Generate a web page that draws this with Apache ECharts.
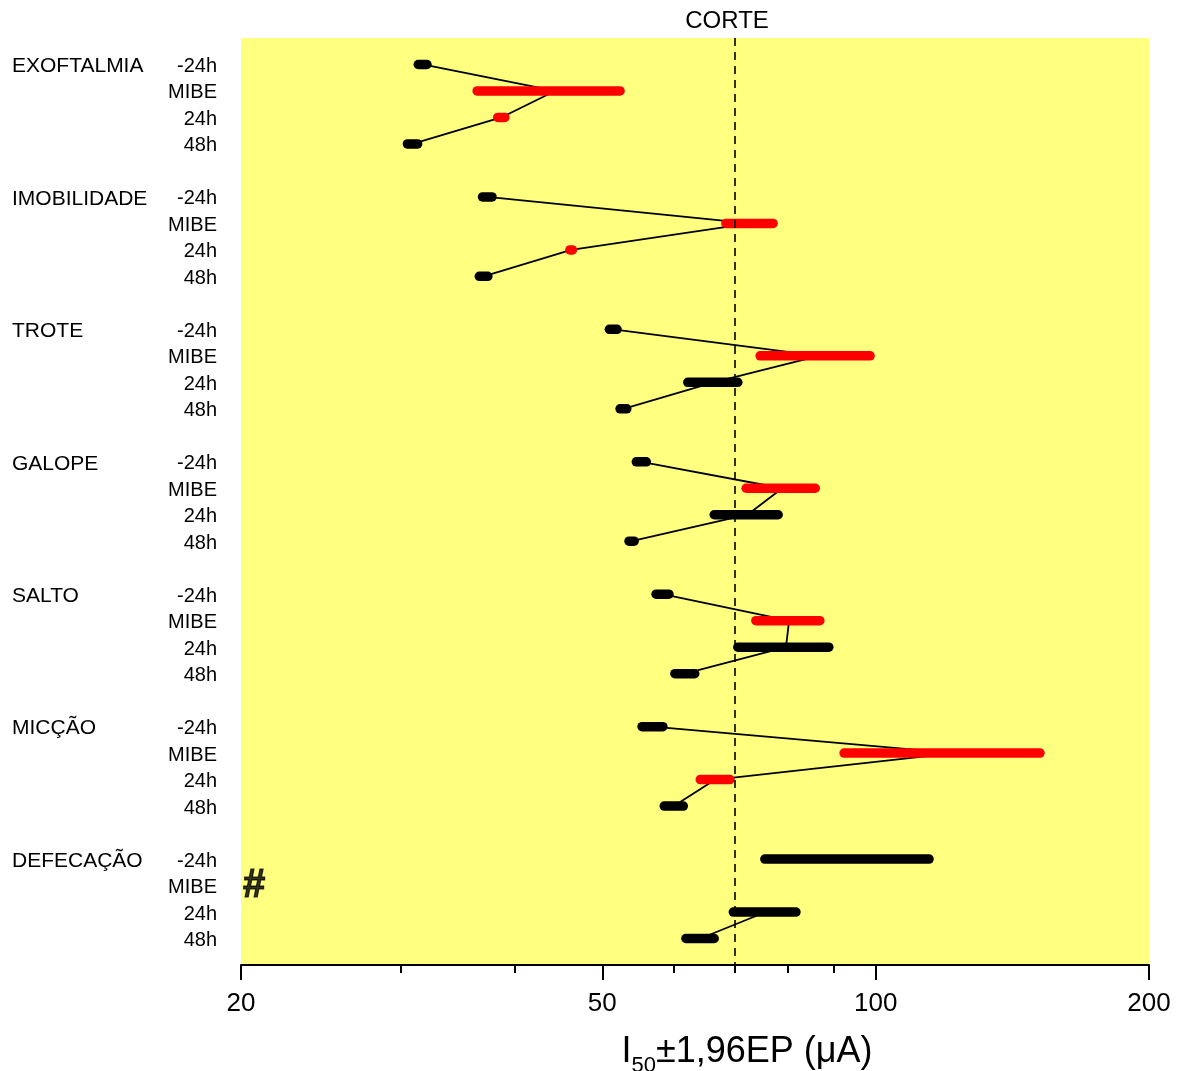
<!DOCTYPE html>
<html>
<head>
<meta charset="utf-8">
<script src="https://cdn.jsdelivr.net/npm/echarts@6/dist/echarts.min.js"></script>
<style>
html, body { margin: 0; background: #fff; }
#chart { width: 1180px; height: 1071px; }
</style>
</head>
<body>
<div id="chart"></div>
<script>
var groups = ['EXOFTALMIA', 'IMOBILIDADE', 'TROTE', 'GALOPE', 'SALTO', 'MICÇÃO', 'DEFECAÇÃO'];
var times = ['-24h', 'MIBE', '24h', '48h'];

// I50 (uA) per group, order -24h, MIBE, 24h, 48h  (null = not determined)
var i50 = [
	[31.7, 44.35, 38.7, 30.9],
	[37.35, 72.75, 46.2, 37.0],
	[51.4, 86.6, 66.3, 52.75],
	[55.2, 78.9, 72.25, 53.85],
	[58.25, 80.3, 79.65, 61.65],
	[56.8, 122.0, 66.6, 59.95],
	[95.0, null, 75.7, 64.1]
];
// 1,96 * EP
var ci = [
	[0.35, 7.95, 0.35, 0.4],
	[0.45, 4.35, 0.15, 0.4],
	[0.5, 12.0, 4.2, 0.45],
	[0.7, 6.9, 5.85, 0.35],
	[0.95, 6.5, 9.15, 1.55],
	[1.5, 29.7, 2.5, 1.45],
	[19.5, null, 6.0, 2.3]
];
// 1 = significant (red)
var signif = [
	[0, 1, 1, 0],
	[0, 1, 1, 0],
	[0, 1, 0, 0],
	[0, 1, 0, 0],
	[0, 1, 0, 0],
	[0, 1, 1, 0],
	[0, 0, 0, 0]
];
var cutoff = 70;
var xTicks = [20, 50, 100, 200];
var xMinorTicks = [30, 40, 60, 70, 80, 90];

var font = 'Liberation Sans, Arial, sans-serif';

// row index: 5 slots per group (4 times + 1 gap)
function row(g, t) { return g * 5 + t; }

var bars = [];
var missing = [];
var series = [];

function each(arr, fn) { for (var i = 0; i < arr.length; i++) fn(i, arr[i]); }

each(groups, function (g) {
	var pts = [];
	each(times, function (t) {
		var v = i50[g][t];
		if (v === null) {
			pts.push(['-', row(g, t)]);
			missing.push([xTicks[0], row(g, t)]);
			return;
		}
		bars.push([v - ci[g][t], v + ci[g][t], row(g, t), signif[g][t]]);
		pts.push([v, row(g, t)]);
	});
	series.push({
		type: 'line',
		data: pts,
		symbol: 'none',
		connectNulls: false,
		silent: true,
		z: 2,
		lineStyle: { color: '#000', width: 1.8 }
	});
});

series.push({
	type: 'custom',
	data: bars,
	z: 3,
	encode: { x: [0, 1], y: 2 },
	renderItem: function (params, api) {
		var a = api.coord([api.value(0), api.value(2)]);
		var b = api.coord([api.value(1), api.value(2)]);
		return {
			type: 'line',
			shape: { x1: a[0], y1: a[1], x2: b[0], y2: b[1] },
			style: {
				stroke: api.value(3) ? '#ff0000' : '#000000',
				lineWidth: 9.5,
				lineCap: 'round'
			}
		};
	},
	markLine: {
		silent: true,
		symbol: 'none',
		data: [{ xAxis: cutoff }],
		lineStyle: { color: '#000', type: [8, 6], width: 1.6 },
		label: {
			show: true,
			position: 'start',
			formatter: 'CORTE',
			color: '#000',
			fontSize: 24,
			fontFamily: font,
			distance: 5,
			padding: [0, 16, 0, 0]
		}
	}
});

series.push({
	type: 'scatter',
	data: missing,
	symbolSize: 0,
	silent: true,
	label: {
		show: true,
		position: 'right',
		distance: 2,
		formatter: '#',
		color: '#000',
		fontSize: 40,
		fontWeight: 'bold',
		fontFamily: font,
		textBorderColor: '#000',
		textBorderWidth: 1.2
	}
});

var myChart = echarts.init(document.getElementById('chart'));

option = {
	backgroundColor: '#fff',
	animation: false,
	grid: {
		left: 241,
		right: 31,
		top: 38,
		bottom: 106,
		outerBoundsMode: 'none',
		containLabel: false,
		show: true,
		backgroundColor: '#ffff80',
		borderWidth: 0
	},
	xAxis: [
		{
			type: 'log',
			logBase: 10,
			min: 20,
			max: 200,
			position: 'bottom',
			splitLine: { show: false },
			axisLine: { show: true, onZero: false, lineStyle: { color: '#000', width: 2 } },
			axisTick: { show: true, customValues: xTicks, length: 15, lineStyle: { color: '#000', width: 2 } },
			axisLabel: { customValues: xTicks, color: '#000', fontSize: 26, fontFamily: font, margin: 26 },
			name: '{m|I}{s|50}{m|±1,96EP (μA)}',
			nameLocation: 'middle',
			nameGap: 62,
			nameTextStyle: {
				padding: [0, 0, 0, 104],
				rich: {
					m: { fontSize: 36, color: '#000', fontFamily: font },
					s: { fontSize: 22, color: '#000', fontFamily: font, padding: [28, 0, 0, 0] }
				}
			}
		},
		{
			type: 'log',
			logBase: 10,
			min: 20,
			max: 200,
			position: 'bottom',
			offset: 0,
			splitLine: { show: false },
			axisLine: { show: false, onZero: false },
			axisTick: { show: true, customValues: xMinorTicks, length: 8, lineStyle: { color: '#000', width: 2 } },
			axisLabel: { show: false }
		}
	],
	yAxis: {
		type: 'value',
		min: -1,
		max: 34,
		interval: 1,
		inverse: true,
		splitLine: { show: false },
		axisLine: { show: false },
		axisTick: { show: false },
		axisLabel: {
			margin: 24,
			padding: [4, 0, 0, 0],
			formatter: function (v) {
				if (v < 0) return '';
				var g = Math.floor(v / 5), t = v % 5;
				if (t === 4 || g >= groups.length) return '';
				return (t === 0 ? '{g|' + groups[g] + '}' : '{g|}') + '{t|' + times[t] + '}';
			},
			rich: {
				g: { width: 150, align: 'left', fontSize: 21, color: '#000', fontFamily: font },
				t: { width: 55, align: 'right', fontSize: 20, color: '#000', fontFamily: font }
			}
		}
	},
	series: series
};

myChart.setOption(option);
</script>
</body>
</html>
